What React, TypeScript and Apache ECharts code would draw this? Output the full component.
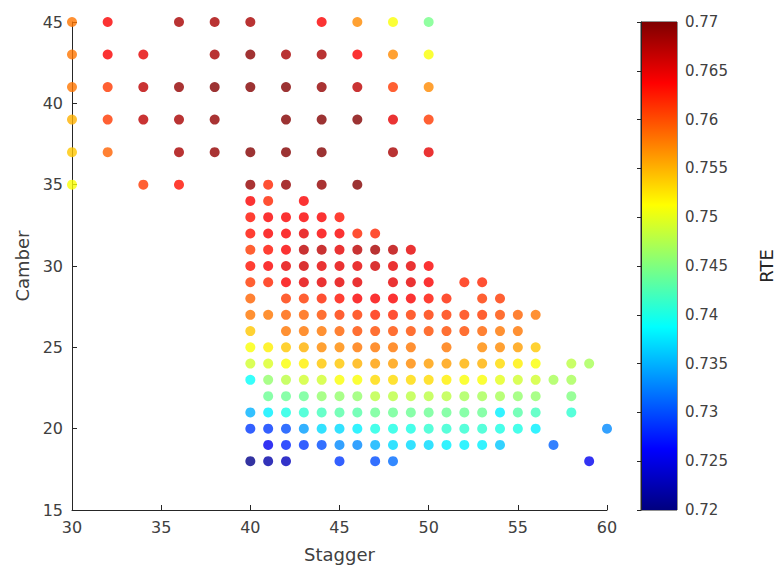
import React, { useEffect, useRef } from "react";
import * as echarts from "echarts";

// Stagger / RTE pairs, one array per Camber row
const camber45 = [[30, 0.758], [32, 0.764], [36, 0.768], [38, 0.768], [40, 0.768], [44, 0.764], [46, 0.757], [48, 0.751], [50, 0.7445]];
const camber43 = [[30, 0.758], [32, 0.764], [34, 0.765], [38, 0.768], [40, 0.7695], [42, 0.768], [44, 0.768], [46, 0.764], [48, 0.757], [50, 0.751]];
const camber41 = [[30, 0.758], [32, 0.761], [34, 0.767], [36, 0.769], [38, 0.7698], [40, 0.7698], [42, 0.7698], [44, 0.769], [46, 0.767], [48, 0.761], [50, 0.757]];
const camber39 = [[30, 0.755], [32, 0.761], [34, 0.767], [36, 0.768], [38, 0.769], [42, 0.7698], [44, 0.7698], [46, 0.7698], [48, 0.765], [50, 0.761]];
const camber37 = [[30, 0.754], [32, 0.759], [36, 0.768], [38, 0.769], [40, 0.7698], [42, 0.7698], [44, 0.7698], [48, 0.768], [50, 0.765]];
const camber35 = [[30, 0.751], [34, 0.761], [36, 0.763], [40, 0.769], [41, 0.762], [42, 0.769], [44, 0.769], [46, 0.7698]];
const camber34 = [[40, 0.764], [41, 0.762], [43, 0.764]];
const camber33 = [[40, 0.763], [41, 0.764], [42, 0.764], [43, 0.764], [44, 0.764], [45, 0.763]];
const camber32 = [[40, 0.763], [41, 0.764], [42, 0.764], [43, 0.765], [44, 0.764], [45, 0.764], [46, 0.762], [47, 0.762]];
const camber31 = [[40, 0.761], [41, 0.763], [42, 0.764], [43, 0.767], [44, 0.767], [45, 0.765], [46, 0.767], [47, 0.768], [48, 0.767], [49, 0.765]];
const camber30 = [[40, 0.763], [41, 0.764], [42, 0.765], [43, 0.766], [44, 0.765], [45, 0.765], [46, 0.765], [47, 0.766], [48, 0.765], [49, 0.765], [50, 0.764]];
const camber29 = [[40, 0.761], [41, 0.762], [42, 0.764], [43, 0.765], [44, 0.765], [45, 0.765], [46, 0.765], [48, 0.765], [49, 0.765], [50, 0.764], [52, 0.762], [53, 0.762]];
const camber28 = [[40, 0.759], [42, 0.761], [43, 0.761], [44, 0.762], [45, 0.763], [46, 0.764], [47, 0.764], [48, 0.764], [49, 0.764], [50, 0.763], [51, 0.762], [53, 0.761], [54, 0.761]];
const camber27 = [[40, 0.758], [41, 0.758], [42, 0.759], [43, 0.759], [44, 0.76], [45, 0.761], [46, 0.761], [47, 0.762], [48, 0.762], [49, 0.761], [50, 0.761], [51, 0.761], [52, 0.761], [53, 0.761], [54, 0.76], [55, 0.759], [56, 0.758]];
const camber26 = [[40, 0.754], [42, 0.758], [43, 0.758], [44, 0.758], [45, 0.759], [46, 0.76], [47, 0.76], [48, 0.76], [49, 0.76], [50, 0.76], [51, 0.76], [52, 0.76], [53, 0.759], [54, 0.758], [55, 0.758]];
const camber25 = [[40, 0.751], [41, 0.752], [42, 0.754], [43, 0.755], [44, 0.757], [45, 0.757], [46, 0.758], [47, 0.758], [48, 0.758], [49, 0.758], [51, 0.758], [53, 0.757], [54, 0.757], [55, 0.756], [56, 0.754]];
const camber24 = [[40, 0.749], [41, 0.7495], [42, 0.751], [43, 0.752], [44, 0.754], [45, 0.754], [46, 0.755], [47, 0.756], [48, 0.756], [49, 0.757], [50, 0.756], [51, 0.756], [52, 0.755], [53, 0.755], [54, 0.753], [55, 0.752], [56, 0.751], [58, 0.748], [59, 0.747]];
const camber23 = [[40, 0.739], [41, 0.746], [42, 0.748], [43, 0.749], [44, 0.749], [45, 0.751], [46, 0.751], [47, 0.753], [48, 0.753], [49, 0.753], [50, 0.753], [51, 0.752], [52, 0.751], [53, 0.751], [54, 0.75], [55, 0.749], [56, 0.749], [57, 0.747], [58, 0.747]];
const camber22 = [[41, 0.744], [42, 0.744], [43, 0.744], [44, 0.746], [45, 0.746], [46, 0.746], [47, 0.748], [48, 0.748], [49, 0.748], [50, 0.748], [51, 0.748], [52, 0.747], [53, 0.747], [54, 0.747], [55, 0.746], [56, 0.746], [58, 0.745]];
const camber21 = [[40, 0.735], [41, 0.738], [42, 0.74], [43, 0.741], [44, 0.742], [45, 0.743], [46, 0.743], [47, 0.744], [48, 0.744], [49, 0.744], [50, 0.744], [51, 0.744], [52, 0.744], [53, 0.744], [54, 0.738], [55, 0.743], [56, 0.742], [58, 0.741]];
const camber20 = [[40, 0.729], [41, 0.729], [42, 0.73], [43, 0.734], [44, 0.737], [45, 0.737], [46, 0.738], [47, 0.74], [48, 0.74], [49, 0.74], [50, 0.741], [51, 0.741], [52, 0.741], [53, 0.741], [54, 0.74], [55, 0.74], [56, 0.738], [60, 0.733]];
const camber19 = [[41, 0.7255], [42, 0.728], [43, 0.729], [44, 0.73], [45, 0.733], [46, 0.733], [47, 0.735], [48, 0.737], [49, 0.737], [50, 0.737], [51, 0.738], [52, 0.738], [53, 0.738], [54, 0.736], [57, 0.731]];
const camber18 = [[40, 0.7205], [41, 0.722], [42, 0.723], [45, 0.729], [47, 0.73], [48, 0.7315], [59, 0.7255]];

const rows: [number, number[][]][] = [
  [45, camber45], [43, camber43], [41, camber41], [39, camber39], [37, camber37],
  [35, camber35], [34, camber34], [33, camber33], [32, camber32], [31, camber31],
  [30, camber30], [29, camber29], [28, camber28], [27, camber27], [26, camber26],
  [25, camber25], [24, camber24], [23, camber23], [22, camber22], [21, camber21],
  [20, camber20], [19, camber19], [18, camber18],
];

const jet = ["#00007F", "#0000FF", "#007FFF", "#00FFFF", "#7FFF7F", "#FFFF00", "#FF7F00", "#FF0000", "#7F0000"];
const rteMin = 0.72;
const rteMax = 0.77;

const FONT = "DejaVu Sans";

export default function App() {
  const ref = useRef<HTMLDivElement>(null);
  useEffect(() => {
    if (!ref.current) return;
    const chart = echarts.init(ref.current, null, { renderer: "svg" });
    const data: number[][] = [];
    rows.forEach(([camber, pts]) => {
      pts.forEach(([stagger, rte]) => data.push([stagger, camber, rte]));
    });
    const stops = jet
      .slice()
      .reverse()
      .map((c, i) => ({ offset: i / (jet.length - 1), color: c }));
    chart.setOption({
      animation: false,
      backgroundColor: "#ffffff",
      textStyle: { fontFamily: FONT },
      grid: [
        { left: 72, top: 22, width: 535, height: 488, show: false },
        { left: 641, top: 22, width: 36, height: 488, show: true, borderColor: "#262626", borderWidth: 1, backgroundColor: "transparent" },
      ],
      graphic: [
        {
          type: "rect",
          z: 0,
          shape: { x: 641, y: 22, width: 36, height: 488 },
          style: { fill: new echarts.graphic.LinearGradient(0, 0, 0, 1, stops) },
        },
      ],
      xAxis: [
        {
          type: "value",
          gridIndex: 0,
          min: 30,
          max: 60,
          interval: 5,
          axisLine: { show: true, lineStyle: { color: "#262626", width: 1 } },
          axisTick: { show: true, inside: true, length: 5, lineStyle: { color: "#262626" } },
          splitLine: { show: false },
          axisLabel: { fontSize: 16, color: "#404040", margin: 9, fontFamily: FONT },
          name: "Stagger",
          nameLocation: "middle",
          nameGap: 35,
          nameTextStyle: { fontSize: 18, color: "#404040", fontFamily: FONT },
        },
        { type: "value", gridIndex: 1, min: 0, max: 1, show: false },
      ],
      yAxis: [
        {
          type: "value",
          gridIndex: 0,
          min: 15,
          max: 45,
          interval: 5,
          axisLine: { show: true, lineStyle: { color: "#262626", width: 1 } },
          axisTick: { show: true, inside: true, length: 5, lineStyle: { color: "#262626" } },
          splitLine: { show: false },
          axisLabel: { fontSize: 16, color: "#404040", margin: 9, fontFamily: FONT },
          name: "Camber",
          nameLocation: "middle",
          nameGap: 38,
          nameTextStyle: { fontSize: 18, color: "#404040", fontFamily: FONT },
        },
        {
          type: "value",
          gridIndex: 1,
          position: "right",
          min: rteMin,
          max: rteMax,
          interval: 0.005,
          axisLine: { show: true, lineStyle: { color: "#262626", width: 1 } },
          axisTick: { show: true, inside: true, length: 4, lineStyle: { color: "#262626" } },
          splitLine: { show: false },
          axisLabel: {
            fontSize: 15,
            color: "#404040",
            margin: 8,
            fontFamily: FONT,
            formatter: (v: number) => String(parseFloat(v.toFixed(3))),
          },
          name: "RTE",
          nameLocation: "middle",
          nameRotate: 90,
          nameGap: 80,
          nameTextStyle: { fontSize: 18, color: "#262626", fontFamily: FONT },
        },
      ],
      visualMap: {
        type: "continuous",
        show: false,
        min: rteMin,
        max: rteMax,
        dimension: 2,
        seriesIndex: 0,
        inRange: { color: jet },
      },
      series: [
        {
          type: "scatter",
          xAxisIndex: 0,
          yAxisIndex: 0,
          clip: false,
          symbol: "circle",
          symbolSize: 10,
          data,
          z: 5,
        },
      ],
    });
    return () => chart.dispose();
  }, []);
  return (
    <div
      ref={ref}
      style={{ position: "fixed", left: 0, top: 0, width: 776, height: 569, background: "#fff" }}
    />
  );
}
